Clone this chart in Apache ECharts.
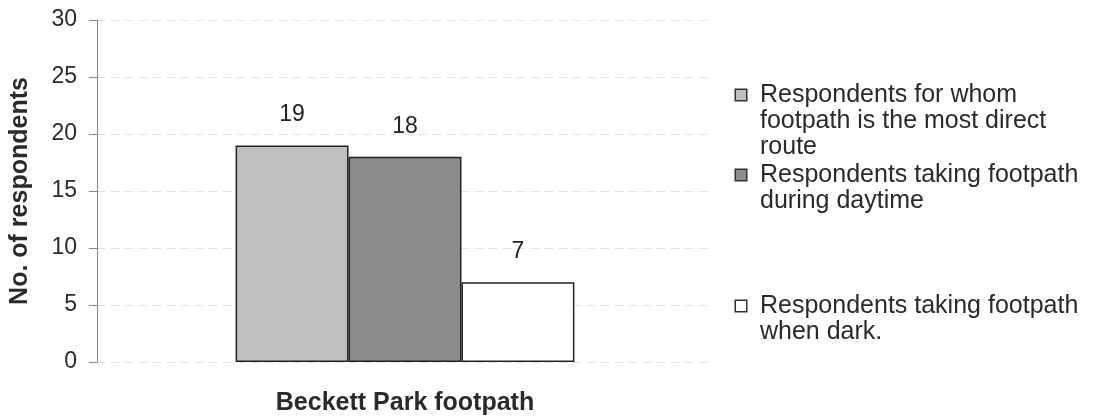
<!DOCTYPE html>
<html>
<head>
<meta charset="utf-8">
<script src="https://cdn.jsdelivr.net/npm/echarts@6/dist/echarts.min.js"></script>
<style>
  html, body { margin: 0; padding: 0; background: #fff; }
  #chart { width: 1099px; height: 418px; }
</style>
</head>
<body>
<div id="chart"></div>
<script>
const categories = ['Beckett Park footpath']
const seriesNames = [
  'Respondents for whom footpath is the most direct route',
  'Respondents taking footpath during daytime',
  'Respondents taking footpath when dark.'
]
// legend text as it is wrapped in the picture
const legendLines = [
  ['Respondents for whom', 'footpath is the most direct', 'route'],
  ['Respondents taking footpath', 'during daytime'],
  ['Respondents taking footpath', 'when dark.']
]
const directValues = [19]
const daytimeValues = [18]
const darkValues = [7]
const yTicks = [0, 5, 10, 15, 20, 25, 30]

const font = 'Liberation Sans, Arial, sans-serif'
const barColors = ['#bfbfbf', '#8c8c8c', '#ffffff']
const legendTops = [82, 162, 293]

function makeLegend (i) {
  const rich = {
    box: {
      width: 10,
      height: 10,
      backgroundColor: barColors[i],
      borderColor: '#333',
      borderWidth: 1.5
    },
    gap: { width: 14 },
    ind: { width: 24 },
    t: { fontSize: 25, fontFamily: font, color: '#2a2a2a', lineHeight: 26 }
  }
  return {
    show: true,
    left: 730,
    top: legendTops[i],
    padding: 0,
    orient: 'vertical',
    data: [seriesNames[i]],
    itemWidth: 0,
    itemHeight: 0,
    itemGap: 0,
    itemStyle: { opacity: 0 },
    textStyle: { fontSize: 25, fontFamily: font, lineHeight: 26, rich: rich },
    selectedMode: false,
    formatter: function () {
      return legendLines[i].map(function (line, k) {
        const lead = k === 0 ? '{box| }{gap| }' : '{ind| }'
        return lead + '{t|' + line + '}'
      }).join('\n')
    }
  }
}

function makeSeries (i, values) {
  return {
    name: seriesNames[i],
    type: 'bar',
    data: values,
    barGap: '0%',
    barCategoryGap: '45%',
    itemStyle: {
      color: barColors[i],
      borderColor: '#222',
      borderWidth: 1.5
    },
    label: {
      show: true,
      position: 'top',
      distance: 19,
      fontSize: 23,
      fontFamily: font,
      color: '#222'
    }
  }
}

const chart = echarts.init(document.getElementById('chart'))
chart.setOption({
  backgroundColor: '#fff',
  animation: false,
  grid: {
    left: 97,
    right: 386,
    top: 20,
    bottom: 56,
    containLabel: false
  },
  legend: [makeLegend(0), makeLegend(1), makeLegend(2)],
  xAxis: {
    type: 'category',
    data: categories,
    axisLine: { show: false },
    axisTick: { show: false },
    axisLabel: {
      margin: 29,
      fontSize: 25,
      fontWeight: 'bold',
      fontFamily: font,
      color: '#2a2a2a'
    },
    splitLine: { show: false }
  },
  yAxis: {
    type: 'value',
    min: yTicks[0],
    max: yTicks[yTicks.length - 1],
    interval: 5,
    name: 'No. of respondents',
    nameLocation: 'middle',
    nameGap: 64,
    nameTextStyle: {
      fontSize: 25,
      fontWeight: 'bold',
      fontFamily: font,
      color: '#2a2a2a'
    },
    axisLine: { show: true, lineStyle: { color: '#888', width: 1 } },
    axisTick: { show: true, length: 8, lineStyle: { color: '#888' } },
    axisLabel: {
      margin: 20,
      fontSize: 23,
      fontFamily: font,
      color: '#2a2a2a'
    },
    splitLine: {
      show: true,
      lineStyle: { color: '#e2e2e2', type: [8, 6], width: 1 }
    }
  },
  series: [
    makeSeries(0, directValues),
    makeSeries(1, daytimeValues),
    makeSeries(2, darkValues)
  ]
})
</script>
</body>
</html>
